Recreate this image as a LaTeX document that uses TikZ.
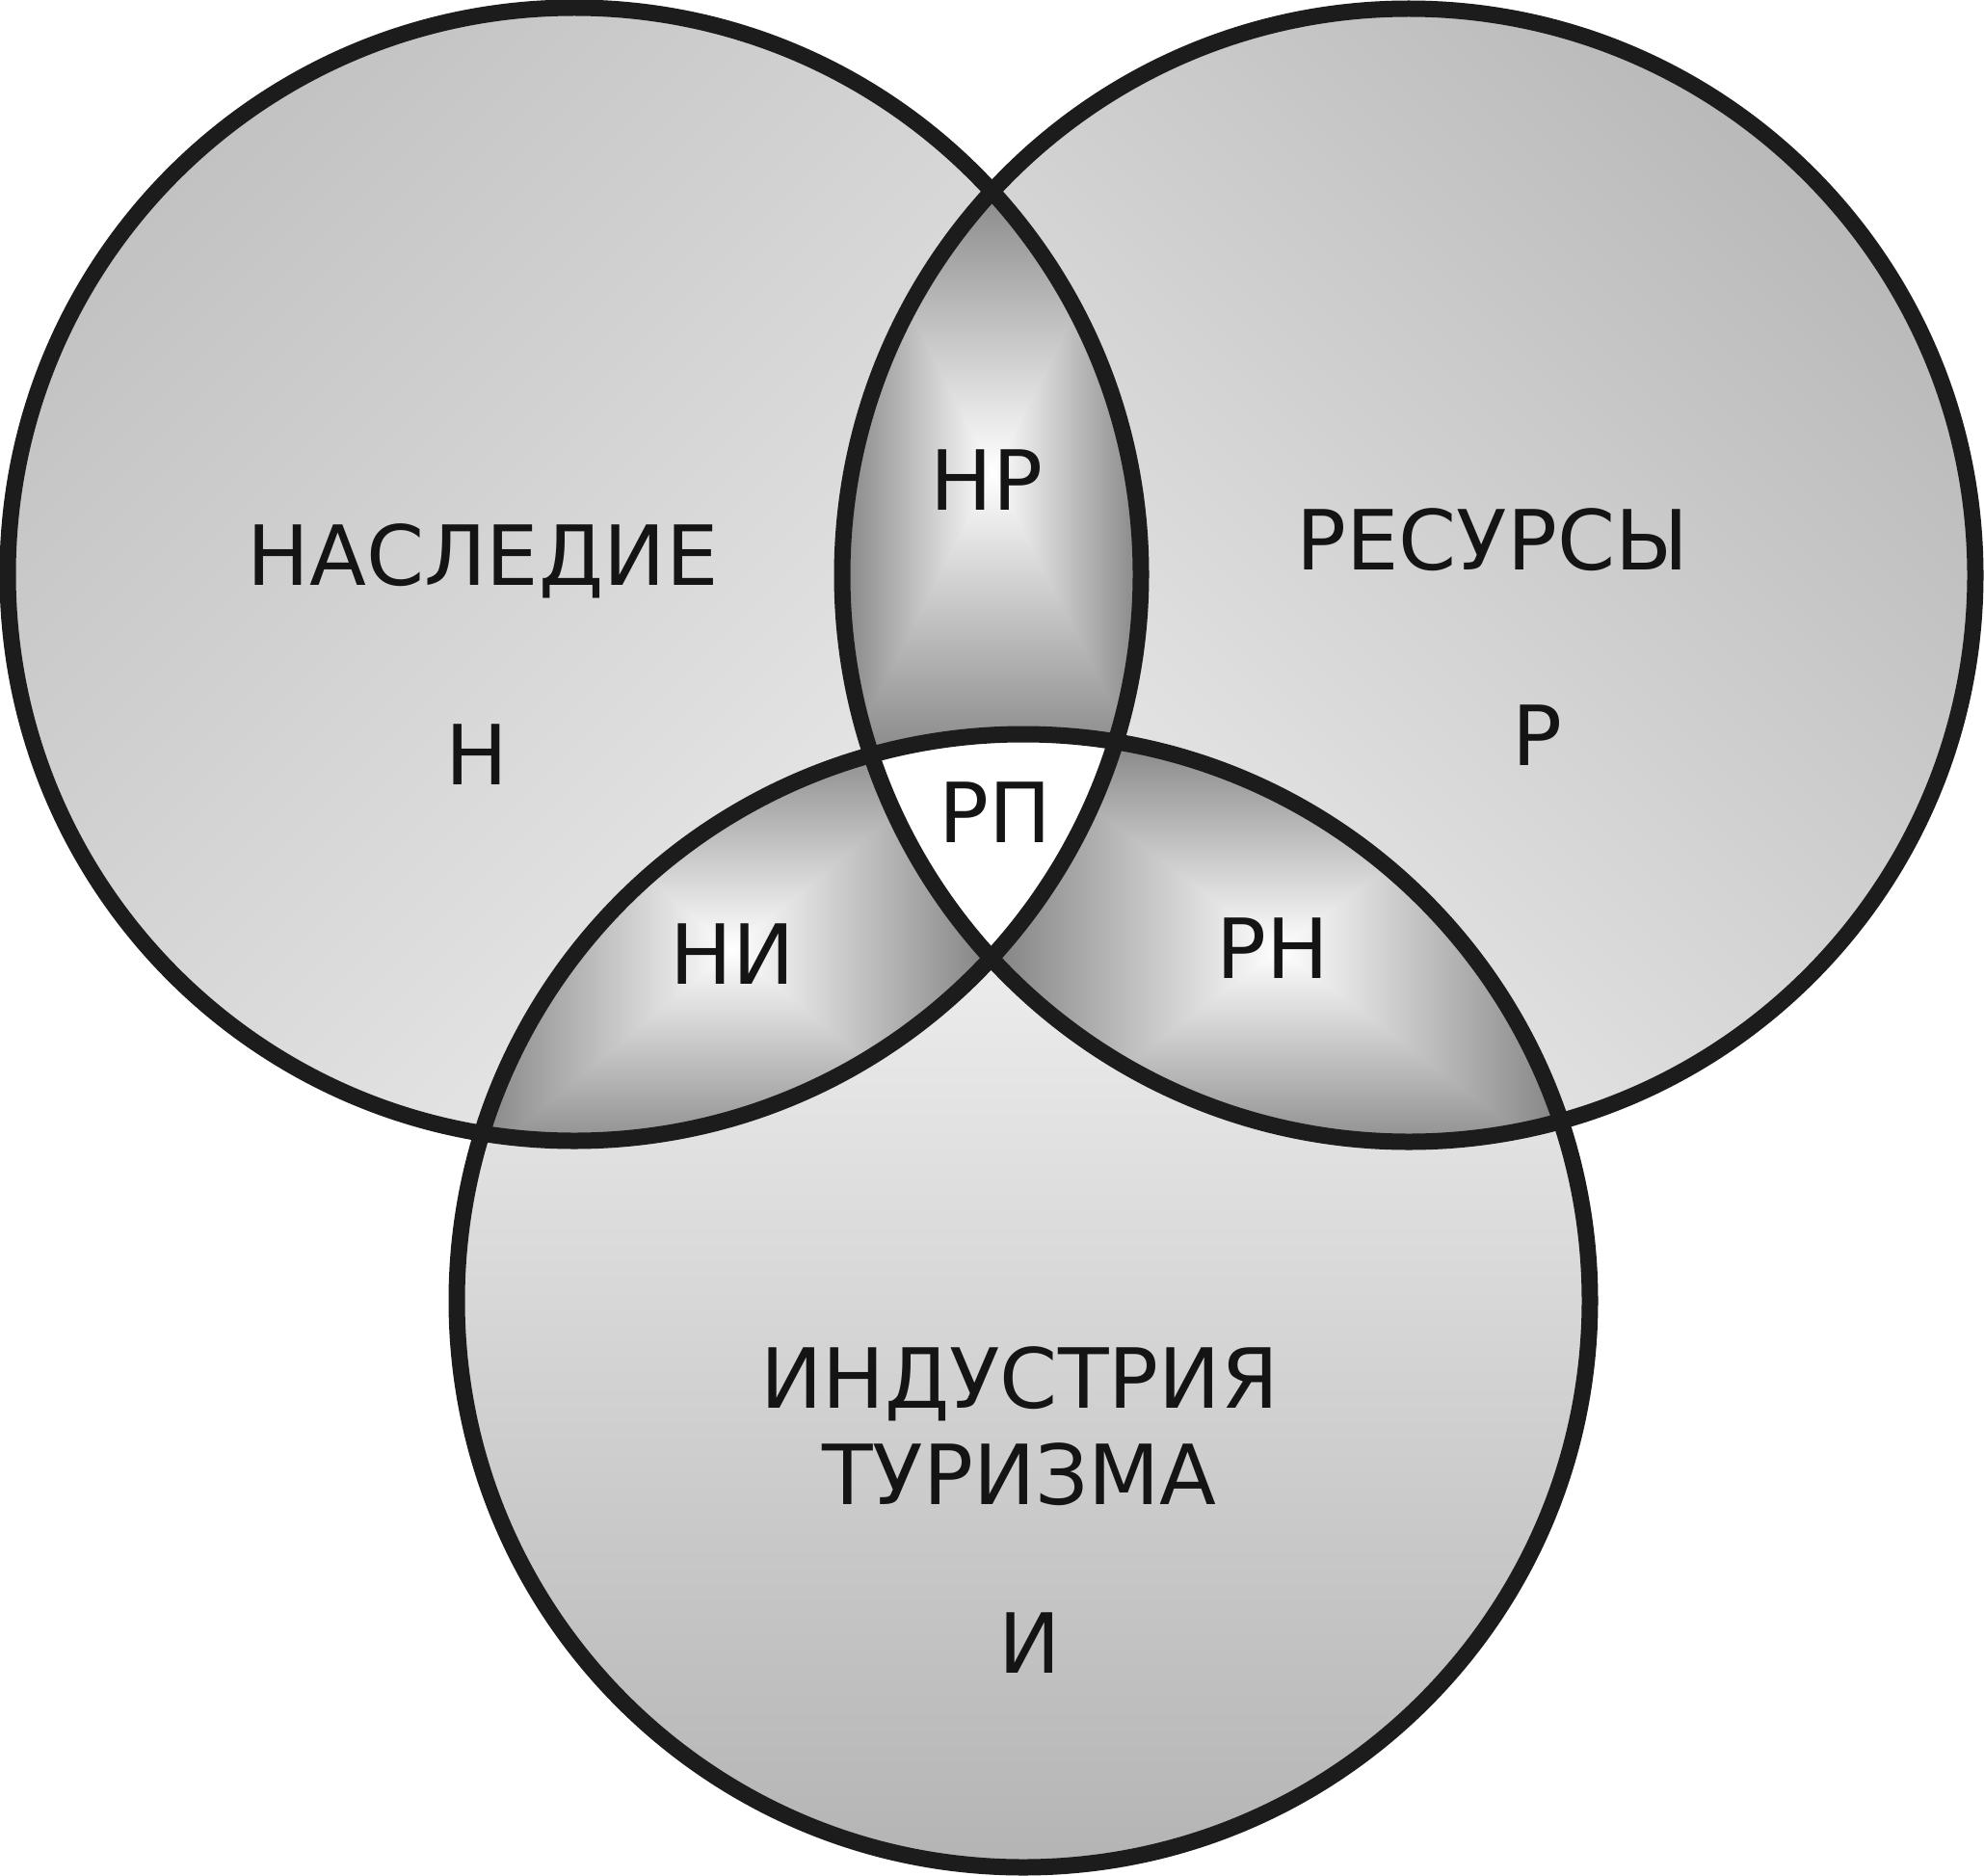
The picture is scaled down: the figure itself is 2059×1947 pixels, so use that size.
\documentclass[tikz,border=0pt]{standalone}
\usepackage{fontspec}
\setmainfont{DejaVu Sans}
\usetikzlibrary{positioning}
\definecolor{RimGray}{RGB}{28,28,28}
\definecolor{InkGray}{RGB}{20,20,20}
\definecolor{HerDark}{RGB}{194,194,194}
\definecolor{HerLite}{RGB}{236,236,236}
\definecolor{ResDark}{RGB}{185,185,185}
\definecolor{ResLite}{RGB}{238,238,238}
\definecolor{IndDark}{RGB}{180,180,180}
\definecolor{IndLite}{RGB}{250,250,250}

% box-shaped glow: white middle, grey rim
\pgfdeclarefunctionalshading{boxglow}{\pgfpoint{-50bp}{-50bp}}{\pgfpoint{50bp}{50bp}}{}{
  abs exch abs 2 copy lt {exch} if pop
  25 div dup 1 gt {pop 1} if
  0.49 mul neg 1 add dup dup
}

\begin{document}
\begin{tikzpicture}[x=0.1mm, y=-0.1mm,
ring/.style={draw=RimGray, line width=1.7mm},
tag/.style={text=InkGray, font=\fontsize{24.5}{29}\selectfont, inner sep=0pt, anchor=base}]
\useasboundingbox (0,0) rectangle (2059,1947);
\def\rad{588}
\coordinate (cH) at (596,596);
\coordinate (cR) at (1462,597);
\coordinate (cI) at (1062,1350);

% circle fills
\shade[top color=HerDark, bottom color=HerLite, shading angle=45] (cH) circle (\rad);
\shade[top color=ResDark, bottom color=ResLite, shading angle=-45] (cR) circle (\rad);
\shade[top color=IndLite, bottom color=IndDark] (cI) circle (\rad);

% pairwise overlaps
\begin{scope}
\clip (cH) circle (\rad); \clip (cR) circle (\rad);
\shade[shading=boxglow] (870,180) rectangle (1190,800);
\end{scope}
\begin{scope}
\clip (cH) circle (\rad); \clip (cI) circle (\rad);
\shade[shading=boxglow] (490,760) rectangle (1030,1210);
\end{scope}
\begin{scope}
\clip (cR) circle (\rad); \clip (cI) circle (\rad);
\shade[shading=boxglow] (1030,760) rectangle (1625,1210);
\end{scope}

% common part
\begin{scope}
\clip (cH) circle (\rad); \clip (cR) circle (\rad);
\fill[white] (cI) circle (\rad);
\end{scope}

% rims
\draw[ring] (cH) circle (\rad);
\draw[ring] (cR) circle (\rad);
\draw[ring] (cI) circle (\rad);

% labels
\node[tag] (her) at (501,607) {НАСЛЕДИЕ};
\node[tag] (herL) at (495,814) {Н};
\node[tag] (res) at (1549,591) {РЕСУРСЫ};
\node[tag] (resL) at (1595,794) {Р};
\node[tag] (hr) at (1024,529) {НР};
\node[tag] (rp) at (1033,874) {РП};
\node[tag] (hi) at (760,1021) {НИ};
\node[tag] (rh) at (1321,1015) {РН};
\node[tag] (ind) at (1058,1461) {ИНДУСТРИЯ};
\node[tag] (tur) at (1058,1561) {ТУРИЗМА};
\node[tag] (indL) at (1069,1736) {И};
\end{tikzpicture}
\end{document}
